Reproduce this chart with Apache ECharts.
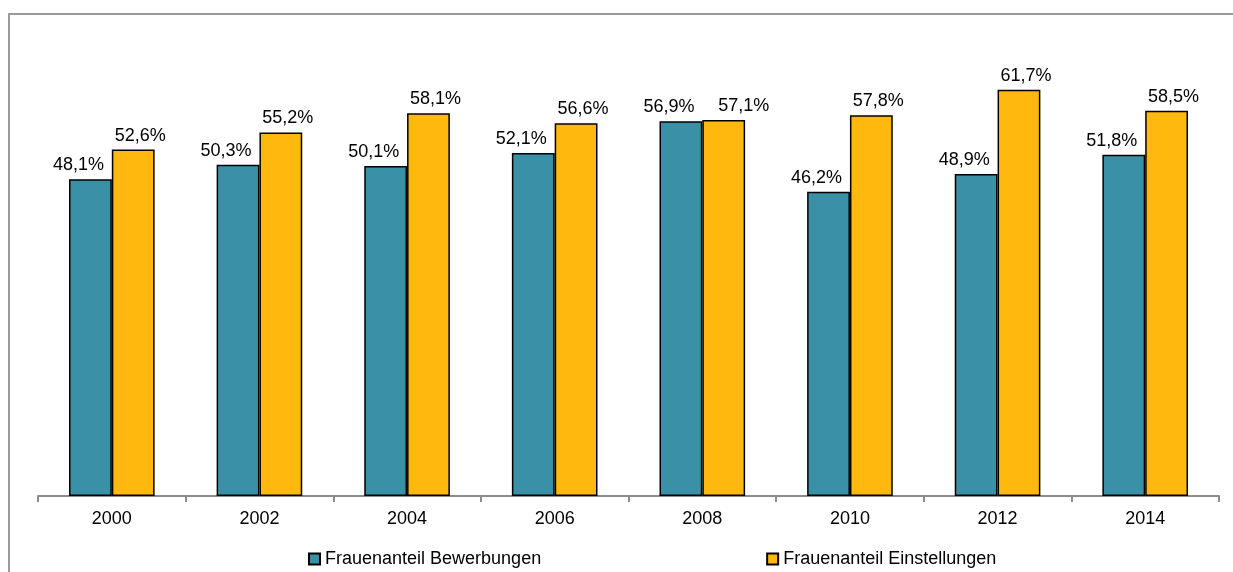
<!DOCTYPE html>
<html>
<head>
<meta charset="utf-8">
<script src="https://cdn.jsdelivr.net/npm/echarts@6/dist/echarts.min.js"></script>
<style>
  html, body { margin: 0; padding: 0; background: #fff; }
  #chart { width: 1233px; height: 572px; }
</style>
</head>
<body>
<div id="chart"></div>
<script>
// Frauenanteil bei Bewerbungen und Einstellungen, 2000–2014
const years = ['2000', '2002', '2004', '2006', '2008', '2010', '2012', '2014'];
const bewerbungen = [48.1, 50.3, 50.1, 52.1, 56.9, 46.2, 48.9, 51.8];
const einstellungen = [52.6, 55.2, 58.1, 56.6, 57.1, 57.8, 61.7, 58.5];
const seriesNames = ['Frauenanteil Bewerbungen', 'Frauenanteil Einstellungen'];

const FONT = 'Liberation Sans, Arial, sans-serif';
const fmt = v => v.toFixed(1).replace('.', ',') + '%';

const chart = echarts.init(document.getElementById('chart'), null, { renderer: 'canvas' });

// value labels sit slightly outward from the pair; where two labels would collide
// (similar heights) the right one is pushed further out
function labelDx(side, i) {
  if (side < 0) return -12;
  const close = Math.abs(einstellungen[i] - bewerbungen[i]) < 1.5;
  return close ? 20 : 7;
}

function barSeries(name, data, color, side) {
  return {
    name: name,
    type: 'bar',
    data: data.map((v, i) => ({ value: v, label: { offset: [labelDx(side, i), 0] } })),
    barGap: '0%',
    barCategoryGap: '42%',
    itemStyle: { color: color, borderColor: '#000', borderWidth: 1.5 },
    label: {
      show: true,
      position: 'top',
      distance: 5,
      color: '#000',
      fontFamily: FONT,
      fontSize: 18,
      formatter: p => fmt(p.value)
    }
  };
}

chart.setOption({
  animation: false,
  backgroundColor: '#fff',
  graphic: [{
    type: 'rect',
    shape: { x: 9, y: 14, width: 1400, height: 800 },
    style: { fill: 'none', stroke: '#9a9a9a', lineWidth: 2 },
    silent: true,
    z: 100
  }],
  grid: { left: 38, right: 14, top: 35, bottom: 76, containLabel: false },
  legend: {
    data: seriesNames,
    left: 308,
    top: 550,
    padding: 0,
    itemWidth: 11,
    itemHeight: 11,
    itemGap: 225,
    icon: 'rect',
    textStyle: { color: '#000', fontFamily: FONT, fontSize: 18 }
  },
  xAxis: {
    type: 'category',
    data: years,
    axisLine: { lineStyle: { color: '#8c8c8c', width: 2 } },
    axisTick: { show: true, length: 6, alignWithLabel: false, lineStyle: { color: '#8c8c8c', width: 2 } },
    axisLabel: { color: '#000', fontFamily: FONT, fontSize: 18, margin: 14 }
  },
  yAxis: {
    type: 'value',
    min: 0,
    max: 70,
    show: false,
    splitLine: { show: false }
  },
  series: [
    barSeries(seriesNames[0], bewerbungen, '#3A91A7', -1),
    barSeries(seriesNames[1], einstellungen, '#FFB80E', 1)
  ]
});
</script>
</body>
</html>
